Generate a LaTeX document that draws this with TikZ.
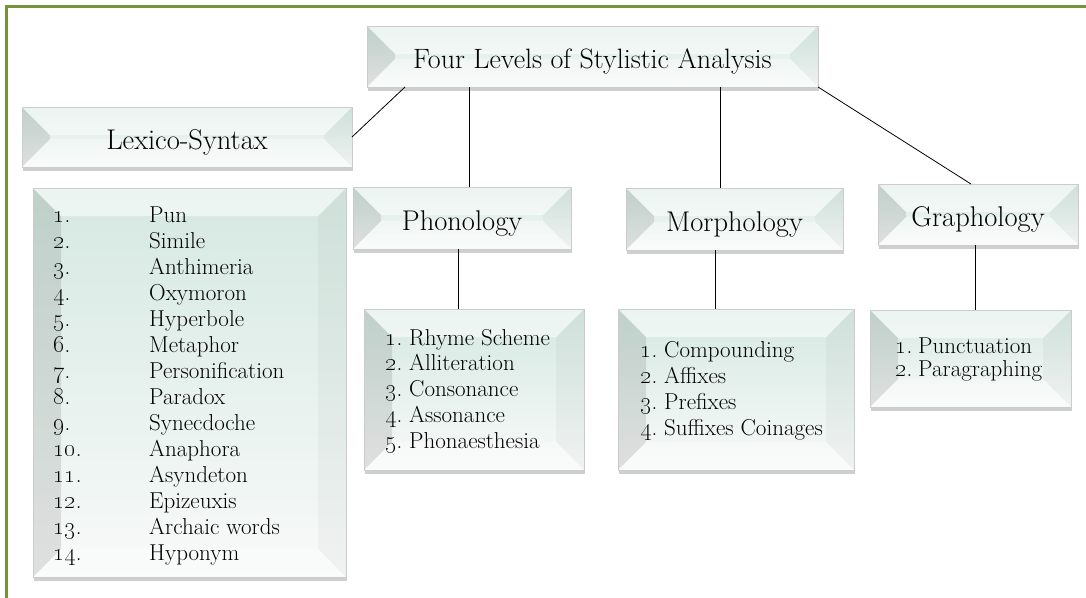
\documentclass[tikz,border=0pt]{standalone}
\usetikzlibrary{shadows,calc}
\definecolor{framegreen}{HTML}{76923C}
\definecolor{faceA}{HTML}{D5E8E1}
\definecolor{faceB}{HTML}{F8FAF9}
\newcommand\bevelfill{%
 \coordinate (bbSW) at (path picture bounding box.south west);
 \coordinate (bbNE) at (path picture bounding box.north east);
 \shade[top color=faceA, bottom color=faceB] (bbSW) rectangle (bbNE);
 % left bevel
 \fill[black, opacity=0.10] let \p1=(bbSW), \p2=(bbNE), \n1={min(28,0.5*(\y2-\y1))} in
   (\x1,\y1) -- (\x1,\y2) -- ({\x1+\n1*1pt},{\y2-\n1*1pt}) -- ({\x1+\n1*1pt},{\y1+\n1*1pt}) -- cycle;
 % right bevel
 \fill[black, opacity=0.03] let \p1=(bbSW), \p2=(bbNE), \n1={min(28,0.5*(\y2-\y1))} in
   (\x2,\y1) -- (\x2,\y2) -- ({\x2-\n1*1pt},{\y2-\n1*1pt}) -- ({\x2-\n1*1pt},{\y1+\n1*1pt}) -- cycle;
 % top bevel
 \fill[white, opacity=0.55] let \p1=(bbSW), \p2=(bbNE), \n1={min(28,0.5*(\y2-\y1))} in
   (\x1,\y2) -- (\x2,\y2) -- ({\x2-\n1*1pt},{\y2-\n1*1pt}) -- ({\x1+\n1*1pt},{\y2-\n1*1pt}) -- cycle;
 % bottom bevel
 \fill[white, opacity=0.35] let \p1=(bbSW), \p2=(bbNE), \n1={min(28,0.5*(\y2-\y1))} in
   (\x1,\y1) -- (\x2,\y1) -- ({\x2-\n1*1pt},{\y1+\n1*1pt}) -- ({\x1+\n1*1pt},{\y1+\n1*1pt}) -- cycle;
}
\tikzset{
 bevelbox/.style={rectangle, inner sep=0pt, outer sep=0pt, draw=black!20, line width=0.5pt,
   drop shadow={shadow xshift=1pt, shadow yshift=-3.5pt, opacity=0.25, fill=black!75},
   path picture={\bevelfill}},
 headtext/.style={font=\fontsize{28.5}{32}\selectfont, text height=24pt, text depth=0pt},
 titletext/.style={font=\fontsize{28}{32}\selectfont, text height=24pt, text depth=0pt},
 listtext/.style={inner sep=0pt, anchor=base west},
 link/.style={draw=black, line width=0.8pt},
}
\newcommand\osn[1]{\oldstylenums{#1}.}
\begin{document}
\begin{tikzpicture}[x=1pt,y=-1pt]
\useasboundingbox (0,0) rectangle (1086,597);
\fill[white] (0,0) rectangle (1086,597);
\draw[framegreen, line width=3pt] (6,610) -- (6,6) -- (1100,6);

\node[bevelbox, titletext, minimum width=451pt, minimum height=61pt] (title) at (592.5,56.5) {Four Levels of Stylistic Analysis};
\node[bevelbox, headtext, minimum width=330pt, minimum height=60pt] (lexico) at (187,137) {Lexico-Syntax};
\node[bevelbox, minimum width=313pt, minimum height=389pt] (lexlist) at (189.5,382.5) {};
\node[bevelbox, headtext, minimum width=218pt, minimum height=62pt] (phon) at (462,218) {Phonology};
\node[bevelbox, minimum width=220pt, minimum height=161pt] (phonlist) at (474,389.5) {};
\node[bevelbox, headtext, minimum width=217pt, minimum height=62pt] (morph) at (734.5,219) {Morphology};
\node[bevelbox, minimum width=236pt, minimum height=161pt] (morphlist) at (736,389.5) {};
\node[bevelbox, headtext, minimum width=200pt, minimum height=61pt] (graph) at (978,214.5) {Graphology};
\node[bevelbox, minimum width=201pt, minimum height=97pt] (graphlist) at (970.5,358.5) {};

\node[listtext] (lextext) at (53,222) {\fontsize{23}{26}\selectfont
 \begin{tabular}[t]{@{}p{96pt}@{}l@{}}
 \osn{1} & Pun\\ \osn{2} & Simile\\ \osn{3} & Anthimeria\\ \osn{4} & Oxymoron\\
 \osn{5} & Hyperbole\\ \osn{6} & Metaphor\\ \osn{7} & Personification\\ \osn{8} & Paradox\\
 \osn{9} & Synecdoche\\ \osn{10} & Anaphora\\ \osn{11} & Asyndeton\\ \osn{12} & Epizeuxis\\
 \osn{13} & Archaic words\\ \osn{14} & Hyponym
 \end{tabular}};
\node[listtext] (phontext) at (385,345) {\fontsize{23}{25.75}\selectfont
 \begin{tabular}[t]{@{}p{24pt}@{}l@{}}
 \osn{1} & Rhyme Scheme\\ \osn{2} & Alliteration\\ \osn{3} & Consonance\\ \osn{4} & Assonance\\ \osn{5} & Phonaesthesia
 \end{tabular}};
\node[listtext] (morphtext) at (640,357) {\fontsize{23}{26}\selectfont
 \begin{tabular}[t]{@{}p{24pt}@{}l@{}}
 \osn{1} & Compounding\\ \osn{2} & Affixes\\ \osn{3} & Prefixes\\ \osn{4} & Suffixes Coinages
 \end{tabular}};
\node[listtext] (graphtext) at (895,353) {\fontsize{23}{23}\selectfont
 \begin{tabular}[t]{@{}p{23pt}@{}l@{}}
 \osn{1} & Punctuation\\ \osn{2} & Paragraphing
 \end{tabular}};

\draw[link] ([xshift=38pt]title.south west) -- (lexico.east);
\draw[link] ([xshift=102pt]title.south west) -- ([xshift=102pt]title.south west |- phon.north);
\draw[link] ([xshift=353pt]title.south west) -- ([xshift=353pt]title.south west |- morph.north);
\draw[link] (title.south east) -- ([xshift=-7pt]graph.north);
\draw[link] ([xshift=-4pt]phon.south) -- ([xshift=-4pt]phon.south |- phonlist.north);
\draw[link] ([xshift=-19.5pt]morph.south) -- ([xshift=-19.5pt]morph.south |- morphlist.north);
\draw[link] ([xshift=-3pt]graph.south) -- ([xshift=-3pt]graph.south |- graphlist.north);
\end{tikzpicture}
\end{document}
